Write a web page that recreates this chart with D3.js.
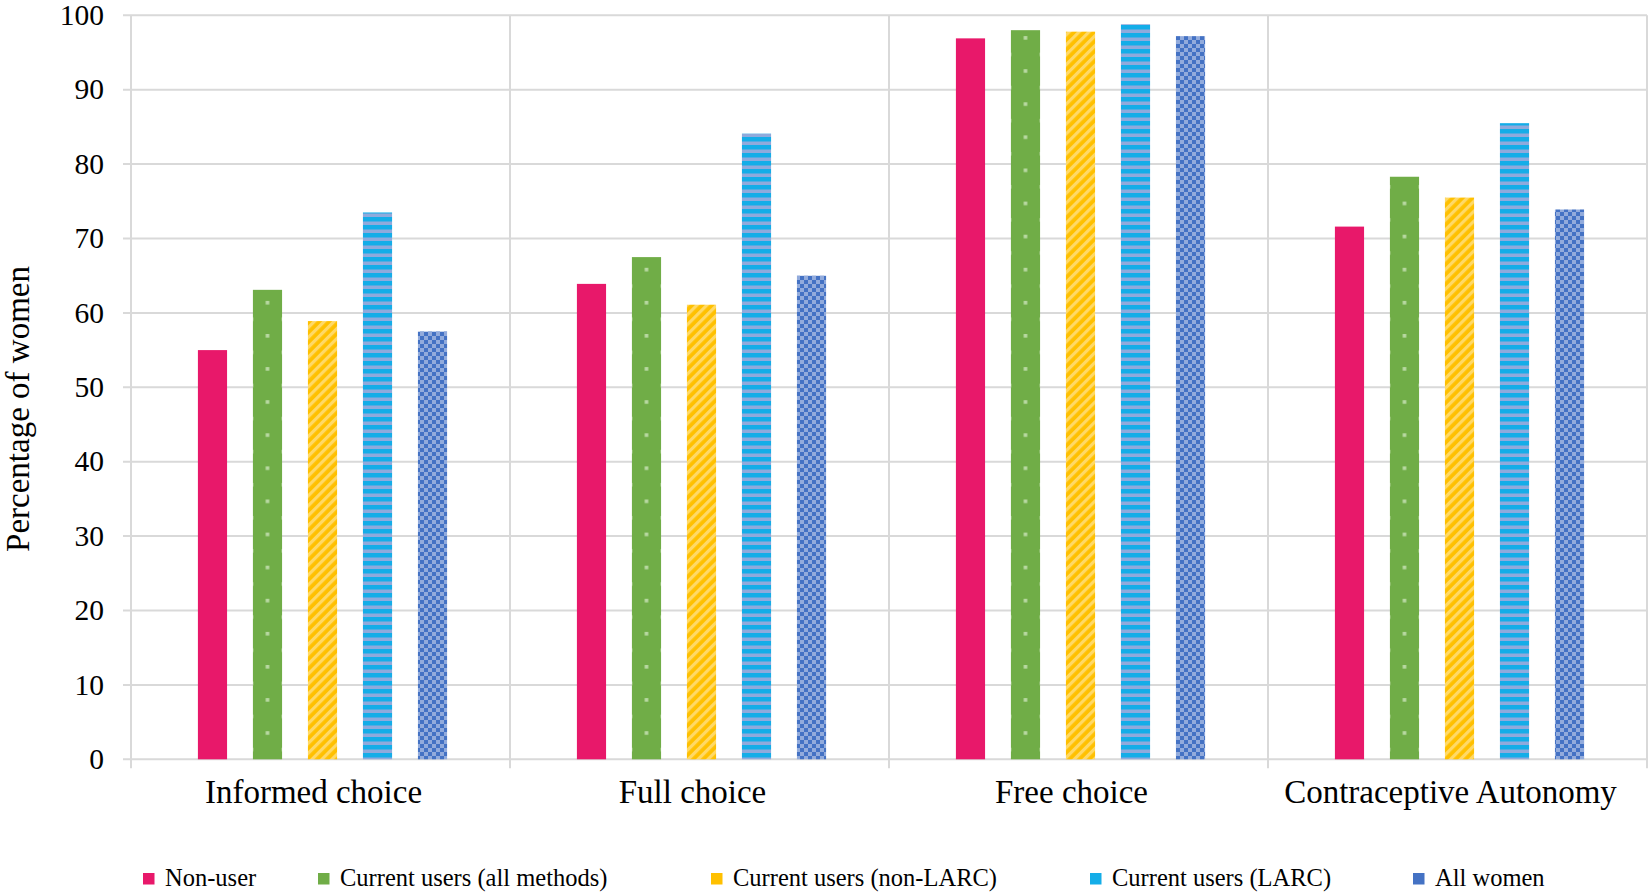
<!DOCTYPE html>
<html><head><meta charset="utf-8">
<script src="https://cdn.jsdelivr.net/npm/d3@7"></script>
<style>body{margin:0;background:#fff}svg{display:block}</style>
</head><body><svg id="c" width="1651" height="892"></svg>
<script>
// ---- data ----
const categories = ["Informed choice", "Full choice", "Free choice", "Contraceptive Autonomy"];
const seriesNames = ["Non-user", "Current users (all methods)", "Current users (non-LARC)", "Current users (LARC)", "All women"];
const nonUser    = [55.0, 63.9, 96.9, 71.6];
const allMethods = [63.1, 67.5, 98.0, 78.3];
const nonLARC    = [58.9, 61.1, 97.8, 75.5];
const larc       = [73.5, 84.1, 98.8, 85.5];
const allWomen   = [57.5, 65.0, 97.2, 73.9];
const yTicks = [0, 10, 20, 30, 40, 50, 60, 70, 80, 90, 100];
const yTitle = "Percentage of women";

// ---- layout ----
const W = 1651, H = 892;
const plotL = 131, plotR = 1647, plotT = 15.3, plotB = 759.3;
const legendX = [143, 318, 711, 1090, 1413];
const labelShift = -7;
const font = "'Liberation Serif','Times New Roman',serif";
const gridColor = "#d9d9d9";

const seriesValues = [nonUser, allMethods, nonLARC, larc, allWomen];
const rows = [];
categories.forEach((c, ci) => seriesNames.forEach((s, si) => rows.push({cat: c, ser: s, si, ci, v: seriesValues[si][ci]})));

const svg = d3.select("#c");
svg.append("rect").attr("width", W).attr("height", H).attr("fill", "#fff");

const x0 = d3.scaleBand().domain(categories).range([plotL, plotR]).padding(0);
const x1 = d3.scaleBand().domain(seriesNames).range([2, x0.bandwidth() + 2]).paddingInner(0.47).paddingOuter(1.18);
const y = d3.scaleLinear().domain([0, 100]).range([plotB, plotT]);

// ---- patterns ----
const defs = svg.append("defs");
// yellow diagonal stripes
const py = defs.append("pattern").attr("id", "pYellow").attr("patternUnits", "userSpaceOnUse")
  .attr("width", 7).attr("height", 7).attr("patternTransform", "rotate(-45)");
py.append("rect").attr("width", 7).attr("height", 7).attr("fill", "#ffc000");
py.append("rect").attr("width", 7).attr("height", 3.2).attr("fill", "#ffd966");
// blue horizontal stripes
const pb = defs.append("pattern").attr("id", "pBlue").attr("patternUnits", "userSpaceOnUse")
  .attr("width", 8).attr("height", 8).attr("y", 1);
pb.append("rect").attr("width", 8).attr("height", 8).attr("fill", "#14ade8");
pb.append("rect").attr("y", 4.5).attr("width", 8).attr("height", 3.5).attr("fill", "#8faadc");
// navy checker
const pn = defs.append("pattern").attr("id", "pNavy").attr("patternUnits", "userSpaceOnUse")
  .attr("width", 8).attr("height", 8);
pn.append("rect").attr("width", 8).attr("height", 8).attr("fill", "#4472c4");
pn.append("rect").attr("x", 0).attr("y", 0).attr("width", 4).attr("height", 4).attr("fill", "#92abdc");
pn.append("rect").attr("x", 4).attr("y", 4).attr("width", 4).attr("height", 4).attr("fill", "#92abdc");
// green dotted, one per category so dots centre on the bar
categories.forEach((c, ci) => {
  const cx = x0(c) + x1(seriesNames[1]) + x1.bandwidth() / 2;
  const pg = defs.append("pattern").attr("id", "pGreen" + ci).attr("patternUnits", "userSpaceOnUse")
    .attr("x", cx - 16).attr("y", 3).attr("width", 32).attr("height", 33.1);
  pg.append("rect").attr("width", 32).attr("height", 33.1).attr("fill", "#70ad47");
  pg.append("rect").attr("x", 14.2).attr("y", 0).attr("width", 3.6).attr("height", 3.6).attr("fill", "#b9d9a3");
  pg.append("rect").attr("x", -1.8).attr("y", 16.5).attr("width", 3.6).attr("height", 3.6).attr("fill", "#b9d9a3");
  pg.append("rect").attr("x", 30.2).attr("y", 16.5).attr("width", 3.6).attr("height", 3.6).attr("fill", "#b9d9a3");
});
const fills = [ci => "#e8186a", ci => `url(#pGreen${ci})`, ci => "url(#pYellow)", ci => "url(#pBlue)", ci => "url(#pNavy)"];
const legendFills = ["#e8186a", "#70ad47", "#ffc000", "#14ade8", "#4472c4"];

// ---- grid ----
const g = svg.append("g");
g.selectAll("line.h").data(yTicks).join("line").attr("class", "h")
  .attr("x1", plotL - 8).attr("x2", plotR).attr("y1", d => y(d)).attr("y2", d => y(d))
  .attr("stroke", gridColor).attr("stroke-width", 2);
const bounds = categories.map(c => x0(c)).concat([plotR]);
g.selectAll("line.v").data(bounds).join("line").attr("class", "v")
  .attr("x1", d => d).attr("x2", d => d).attr("y1", y(100)).attr("y2", plotB + 9)
  .attr("stroke", gridColor).attr("stroke-width", 2);

// y tick labels
svg.append("g").selectAll("text").data(yTicks).join("text")
  .attr("x", 104).attr("y", d => y(d)).attr("dy", "0.33em")
  .attr("text-anchor", "end").attr("font-family", font).attr("font-size", 29.5).attr("fill", "#000")
  .text(d => d);

// y title
svg.append("text").attr("transform", `translate(29,409) rotate(-90)`)
  .attr("text-anchor", "middle").attr("font-family", font).attr("font-size", 33).attr("fill", "#000")
  .text(yTitle);

// category labels
svg.append("g").selectAll("text").data(categories).join("text")
  .attr("x", d => x0(d) + x0.bandwidth() / 2 + labelShift).attr("y", 803)
  .attr("text-anchor", "middle").attr("font-family", font).attr("font-size", 33).attr("fill", "#000")
  .text(d => d);

// ---- bars ----
svg.append("g").selectAll("rect").data(rows).join("rect")
  .attr("x", d => x0(d.cat) + x1(d.ser)).attr("width", x1.bandwidth())
  .attr("y", d => y(d.v)).attr("height", d => y(0) - y(d.v))
  .attr("fill", d => fills[d.si](d.ci));

// ---- legend ----
const lg = svg.append("g").selectAll("g").data(seriesNames).join("g")
  .attr("transform", (d, i) => `translate(${legendX[i]},0)`);
lg.append("rect").attr("x", 0).attr("y", 873).attr("width", 11.5).attr("height", 11.5)
  .attr("fill", (d, i) => legendFills[i]);
lg.append("text").attr("x", 22).attr("y", 886).attr("font-family", font).attr("font-size", 24.5).attr("fill", "#000")
  .text(d => d);
</script></body></html>
